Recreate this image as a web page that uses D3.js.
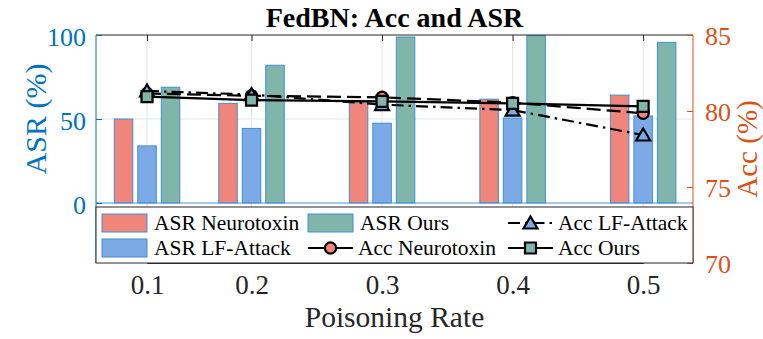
<!DOCTYPE html>
<html>
<head>
<meta charset="utf-8">
<script src="https://cdn.jsdelivr.net/npm/d3@7/dist/d3.min.js"></script>
<style>
	body { margin: 0; background: #fff; }
	svg text { font-family: "Liberation Serif", "Times New Roman", Times, serif; }
</style>
</head>
<body>
<div id="chart"></div>
<script>
///////////////////////////////////////////////////////////////////////////
///////////////////////////// The data ////////////////////////////////////
///////////////////////////////////////////////////////////////////////////

var rates = [0.1, 0.2, 0.3, 0.4, 0.5];

//ASR (%) per poisoning rate - bars, left axis
var asrNeurotoxin = [50, 59.3, 60, 61.8, 64.2],
	asrLF = [34, 44.4, 47.5, 50.6, 51.8],
	asrOurs = [68.9, 82, 98.8, 99.6, 95.6];

//Acc (%) per poisoning rate - lines, right axis
var accNeurotoxin = [81.15, 81.0, 80.9, 80.55, 79.85],
	accLF = [81.32, 81.08, 80.42, 80.06, 78.42],
	accOurs = [80.95, 80.72, 80.63, 80.5, 80.3];

var asrTicks = [0, 50, 100],
	accTicks = [70, 75, 80, 85];

///////////////////////////////////////////////////////////////////////////
///////////////////// Initiate global variables ///////////////////////////
///////////////////////////////////////////////////////////////////////////

var width = 763, height = 339,
	boxLeft = 96, boxRight = 693, boxTop = 35, boxBottom = 263,
	asrZero = 203,
	W = boxRight - boxLeft,
	serif = "'Liberation Serif', 'Times New Roman', Times, serif";

var blueAxis = "#0072BD",
	orangeAxis = "#D95319",
	darkGrey = "#262626",
	barEdge = "#3f8fd6";

var barSeries = [
	{name: "ASR Neurotoxin", values: asrNeurotoxin, color: "#F0857C"},
	{name: "ASR LF-Attack", values: asrLF, color: "#7BAAE6"},
	{name: "ASR Ours", values: asrOurs, color: "#80B6A9"}
];
var lineSeries = [
	{name: "Acc Neurotoxin", values: accNeurotoxin, marker: "circle", fill: "#F0857C", dash: "14,6"},
	{name: "Acc LF-Attack", values: accLF, marker: "triangle", fill: "#7BAAE6", dash: "12,5,2.5,5"},
	{name: "Acc Ours", values: accOurs, marker: "square", fill: "#80B6A9", dash: null}
];

var svg = d3.select("#chart").append("svg")
	.attr("width", width)
	.attr("height", height);

//x positions of the rates follow the original figure (0.1 sits a bit closer to 0.2)
var x = d3.scaleLinear()
	.domain([0.1, 0.2, 0.5])
	.range([boxLeft + W * 0.0855, boxLeft + W * 0.2605, boxLeft + W * 0.9165]);

var xSeries = d3.scalePoint()
	.domain(barSeries.map(function(d) { return d.name; }))
	.range([-23.5, 23.5]);
var barWidth = 18.5;

var yAsr = d3.scaleLinear().domain([0, 100]).range([asrZero, boxTop]);
var yAcc = d3.scaleLinear().domain([70, 85]).range([boxBottom, boxTop]);

///////////////////////////////////////////////////////////////////////////
///////////////////////////// Grid & box //////////////////////////////////
///////////////////////////////////////////////////////////////////////////

svg.append("g").selectAll("line")
	.data(rates)
	.enter().append("line")
	.attr("x1", function(d) { return x(d); })
	.attr("x2", function(d) { return x(d); })
	.attr("y1", boxTop)
	.attr("y2", boxBottom)
	.attr("stroke", "#e3e3e3")
	.attr("stroke-width", 1);

svg.append("g").selectAll("line")
	.data([50])
	.enter().append("line")
	.attr("x1", boxLeft)
	.attr("x2", boxRight)
	.attr("y1", function(d) { return yAsr(d); })
	.attr("y2", function(d) { return yAsr(d); })
	.attr("stroke", "#dfe7ef")
	.attr("stroke-width", 1);

///////////////////////////////////////////////////////////////////////////
//////////////////////////////// Bars /////////////////////////////////////
///////////////////////////////////////////////////////////////////////////

var barGroups = svg.append("g").selectAll("g")
	.data(barSeries)
	.enter().append("g")
	.attr("fill", function(d) { return d.color; });

barGroups.selectAll("rect")
	.data(function(s) { return s.values.map(function(v, i) { return {name: s.name, rate: rates[i], value: v}; }); })
	.enter().append("rect")
	.attr("x", function(d) { return x(d.rate) + xSeries(d.name) - barWidth / 2; })
	.attr("y", function(d) { return yAsr(d.value); })
	.attr("width", barWidth)
	.attr("height", function(d) { return yAsr(0) - yAsr(d.value); })
	.attr("stroke", barEdge)
	.attr("stroke-width", 1);

//bar baseline
svg.append("line")
	.attr("x1", boxLeft).attr("x2", boxRight)
	.attr("y1", yAsr(0)).attr("y2", yAsr(0))
	.attr("stroke", "#4b96d6")
	.attr("stroke-width", 1.2);

///////////////////////////////////////////////////////////////////////////
//////////////////////////// Lines & markers //////////////////////////////
///////////////////////////////////////////////////////////////////////////

function markerPath(type) {
	if (type === "circle") return d3.symbol().type(d3.symbolCircle).size(Math.PI * 5.6 * 5.6)();
	if (type === "square") return "M-5.5,-5.5H5.5V5.5H-5.5Z";
	return "M0,-6.5L7,5.5H-7Z";
}

var line = d3.line()
	.x(function(d, i) { return x(rates[i]); })
	.y(function(d) { return yAcc(d); });

lineSeries.forEach(function(s) {
	svg.append("path")
		.datum(s.values)
		.attr("d", line)
		.attr("fill", "none")
		.attr("stroke", "#000")
		.attr("stroke-width", 2.2)
		.attr("stroke-dasharray", s.dash);

	svg.append("g").selectAll("path")
		.data(s.values)
		.enter().append("path")
		.attr("d", markerPath(s.marker))
		.attr("transform", function(d, i) { return "translate(" + x(rates[i]) + "," + yAcc(d) + ")"; })
		.attr("fill", s.fill)
		.attr("stroke", "#000")
		.attr("stroke-width", 2.2);
});

///////////////////////////////////////////////////////////////////////////
/////////////////////////////// Axes //////////////////////////////////////
///////////////////////////////////////////////////////////////////////////

//top edge of the box with inward ticks
svg.append("line")
	.attr("x1", boxLeft).attr("x2", boxRight)
	.attr("y1", boxTop).attr("y2", boxTop)
	.attr("stroke", darkGrey);
svg.append("g")
	.attr("transform", "translate(0," + boxTop + ")")
	.call(d3.axisTop(x).tickValues(rates).tickSize(-6).tickFormat(""))
	.call(function(g) { g.select(".domain").remove(); g.selectAll("line").attr("stroke", darkGrey); });

//bottom x axis (line and ticks end under the legend)
svg.append("g")
	.attr("transform", "translate(0," + boxBottom + ")")
	.call(d3.axisBottom(x).tickValues(rates).tickSize(-6).tickPadding(12).tickFormat(d3.format(".1f")))
	.call(function(g) {
		g.attr("font-family", serif).attr("font-size", 27);
		g.select(".domain").attr("stroke", darkGrey);
		g.selectAll("line").attr("stroke", darkGrey);
		g.selectAll("text").attr("fill", darkGrey);
	});

//left ASR axis
svg.append("g")
	.attr("transform", "translate(" + boxLeft + ",0)")
	.call(d3.axisLeft(yAsr).tickValues(asrTicks).tickSize(-6).tickPadding(10))
	.call(function(g) {
		g.attr("font-family", serif).attr("font-size", 26);
		g.select(".domain").attr("d", "M0," + boxTop + "V" + boxBottom).attr("stroke", blueAxis);
		g.selectAll("line").attr("stroke", blueAxis);
		g.selectAll("text").attr("fill", blueAxis).attr("dy", "0.4em");
	});

//right Acc axis
svg.append("g")
	.attr("transform", "translate(" + boxRight + ",0)")
	.call(d3.axisRight(yAcc).tickValues(accTicks).tickSize(-6).tickPadding(12))
	.call(function(g) {
		g.attr("font-family", serif).attr("font-size", 26);
		g.select(".domain").attr("d", "M0," + boxTop + "V" + boxBottom).attr("stroke", orangeAxis);
		g.selectAll("line").attr("stroke", orangeAxis);
		g.selectAll("text").attr("fill", orangeAxis).attr("dy", "0.38em");
	});

//axis titles
svg.append("text")
	.attr("transform", "translate(46," + ((boxTop + asrZero) / 2) + ") rotate(-90)")
	.attr("text-anchor", "middle")
	.attr("fill", blueAxis)
	.style("font-size", "30px")
	.text("ASR (%)");

svg.append("text")
	.attr("transform", "translate(757," + ((boxTop + boxBottom) / 2) + ") rotate(-90)")
	.attr("text-anchor", "middle")
	.attr("fill", orangeAxis)
	.style("font-size", "29px")
	.text("Acc (%)");

svg.append("text")
	.attr("x", (boxLeft + boxRight) / 2)
	.attr("y", 327)
	.attr("text-anchor", "middle")
	.attr("fill", darkGrey)
	.style("font-size", "29.5px")
	.text("Poisoning Rate");

svg.append("text")
	.attr("x", (boxLeft + boxRight) / 2)
	.attr("y", 27)
	.attr("text-anchor", "middle")
	.attr("fill", "#000")
	.style("font-size", "28px")
	.style("font-weight", "bold")
	.text("FedBN: Acc and ASR");

///////////////////////////////////////////////////////////////////////////
/////////////////////////////// Legend ////////////////////////////////////
///////////////////////////////////////////////////////////////////////////

var legendItems = [
	{item: barSeries[0], col: 0, row: 0, type: "bar"},
	{item: barSeries[1], col: 0, row: 1, type: "bar"},
	{item: barSeries[2], col: 1, row: 0, type: "bar"},
	{item: lineSeries[0], col: 1, row: 1, type: "line"},
	{item: lineSeries[1], col: 2, row: 0, type: "line"},
	{item: lineSeries[2], col: 2, row: 1, type: "line"}
];
var legendColX = [102, 308, 508],
	legendRowY = [223, 248],
	sampleWidth = 45;

svg.append("rect")
	.attr("x", boxLeft)
	.attr("y", 207)
	.attr("width", W)
	.attr("height", boxBottom - 207)
	.attr("fill", "#fff")
	.attr("stroke", darkGrey)
	.attr("stroke-width", 1);

var legend = svg.selectAll(".legendItem")
	.data(legendItems)
	.enter().append("g")
	.attr("class", "legendItem")
	.attr("transform", function(d) { return "translate(" + legendColX[d.col] + "," + legendRowY[d.row] + ")"; });

legend.filter(function(d) { return d.type === "bar"; })
	.append("rect")
	.attr("x", 0).attr("y", -9)
	.attr("width", sampleWidth).attr("height", 18)
	.attr("fill", function(d) { return d.item.color; })
	.attr("stroke", barEdge);

var legendLines = legend.filter(function(d) { return d.type === "line"; });
legendLines.append("line")
	.attr("x1", 0).attr("x2", sampleWidth)
	.attr("stroke", "#000")
	.attr("stroke-width", 2.2)
	.attr("stroke-dasharray", function(d) { return d.item.marker === "triangle" ? "12,5,2.5,5" : null; });
legendLines.append("path")
	.attr("d", function(d) { return markerPath(d.item.marker); })
	.attr("transform", "translate(" + (sampleWidth / 2) + ",0)")
	.attr("fill", function(d) { return d.item.fill; })
	.attr("stroke", "#000")
	.attr("stroke-width", 2.2);

legend.append("text")
	.attr("x", function(d) { return d.type === "bar" ? sampleWidth + 7 : sampleWidth + 5; })
	.attr("y", 6.5)
	.attr("fill", "#000")
	.style("font-size", "21.5px")
	.text(function(d) { return d.item.name; });
</script>
</body>
</html>
